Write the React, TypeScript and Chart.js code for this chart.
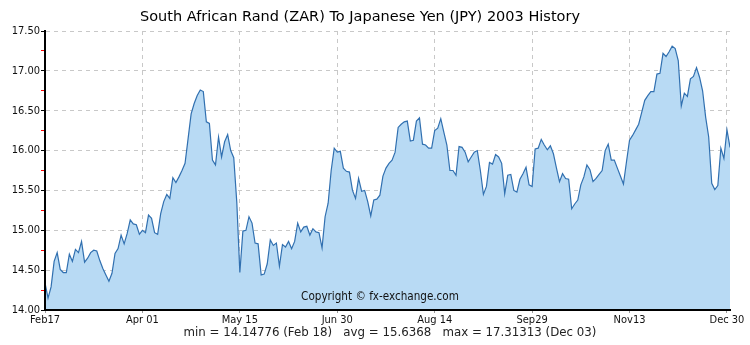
import { useEffect, useRef } from "react";
import { Chart, registerables } from "chart.js";

Chart.register(...registerables);

const TITLE = "South African Rand (ZAR) To Japanese Yen (JPY) 2003 History";
const STATS = "min = 14.14776 (Feb 18)   avg = 15.6368   max = 17.31313 (Dec 03)";
const COPYRIGHT = "Copyright \u00A9 fx-exchange.com";

const tickLabels = ["Feb17", "Apr 01", "May 15", "Jun 30", "Aug 14", "Sep29", "Nov13", "Dec 30"];
const TICK_EVERY = 32;

const rates = [
  14.34, 14.15, 14.29, 14.61, 14.72, 14.51, 14.47, 14.47, 14.70, 14.61,
  14.76, 14.72, 14.86, 14.60, 14.65, 14.72, 14.75, 14.74, 14.62, 14.52,
  14.44, 14.36, 14.46, 14.71, 14.77, 14.94, 14.83, 14.96, 15.13, 15.08,
  15.07, 14.95, 15.00, 14.97, 15.19, 15.15, 14.97, 14.95, 15.21, 15.36,
  15.45, 15.40, 15.66, 15.60, 15.67, 15.75, 15.84, 16.15, 16.46, 16.59,
  16.69, 16.76, 16.74, 16.36, 16.34, 15.88, 15.82, 16.17, 15.92, 16.11,
  16.20, 16.00, 15.91, 15.35, 14.47, 14.99, 15.00, 15.17, 15.09, 14.84,
  14.83, 14.44, 14.45, 14.58, 14.88, 14.81, 14.84, 14.55, 14.82, 14.79,
  14.86, 14.77, 14.86, 15.09, 14.98, 15.04, 15.05, 14.94, 15.02, 14.98,
  14.97, 14.78, 15.17, 15.34, 15.75, 16.03, 15.98, 15.99, 15.78, 15.74,
  15.73, 15.50, 15.40, 15.65, 15.49, 15.50, 15.36, 15.18, 15.38, 15.39,
  15.44, 15.68, 15.78, 15.84, 15.88, 15.98, 16.29, 16.33, 16.36, 16.37,
  16.12, 16.13, 16.37, 16.41, 16.08, 16.07, 16.03, 16.03, 16.25, 16.28,
  16.40, 16.23, 16.07, 15.75, 15.75, 15.69, 16.05, 16.04, 15.98, 15.86,
  15.92, 15.98, 16.00, 15.75, 15.45, 15.55, 15.85, 15.83, 15.95, 15.92,
  15.84, 15.46, 15.69, 15.70, 15.50, 15.48, 15.64, 15.71, 15.79, 15.57,
  15.55, 16.02, 16.03, 16.14, 16.07, 16.01, 16.06, 15.96, 15.78, 15.61,
  15.71, 15.65, 15.64, 15.27, 15.33, 15.38, 15.57, 15.67, 15.82, 15.76,
  15.61, 15.65, 15.70, 15.75, 16.00, 16.08, 15.88, 15.88, 15.78, 15.68,
  15.58, 15.86, 16.13, 16.19, 16.26, 16.33, 16.48, 16.63, 16.69, 16.74,
  16.74, 16.96, 16.97, 17.22, 17.18, 17.24, 17.31, 17.28, 17.13, 16.56,
  16.72, 16.68, 16.90, 16.93, 17.04, 16.92, 16.75, 16.42, 16.17, 15.59,
  15.51, 15.56, 16.03, 15.90, 16.26, 16.04,
];

const TICK_FONT = "'DejaVu Sans Condensed', 'DejaVu Sans', sans-serif";

export default function App() {
  const ref = useRef<HTMLCanvasElement>(null);

  useEffect(() => {
    if (!ref.current) return;

    const overlay = {
      id: "overlay",
      afterDatasetsDraw(chart: any) {
        const { ctx, chartArea } = chart;
        ctx.save();
        ctx.strokeStyle = "#000";
        ctx.lineWidth = 2;
        ctx.beginPath();
        ctx.moveTo(chartArea.left, chartArea.top);
        ctx.lineTo(chartArea.left, chartArea.bottom);
        ctx.lineTo(chartArea.right, chartArea.bottom);
        ctx.stroke();
        ctx.restore();
      },
      afterDraw(chart: any) {
        const { ctx } = chart;
        ctx.save();
        ctx.fillStyle = "#000";
        ctx.textAlign = "center";
        ctx.textBaseline = "middle";
        ctx.font = "14.5px 'DejaVu Sans', sans-serif";
        ctx.fillText(TITLE, 360, 17);
        ctx.font = "11.6px " + TICK_FONT;
        ctx.fillStyle = "#111";
        ctx.fillText(COPYRIGHT, 380, 297);
        ctx.font = "11.8px 'DejaVu Sans', sans-serif";
        ctx.fillStyle = "#222";
        ctx.fillText(STATS, 390, 333);
        ctx.restore();
      },
    };

    const isMajor = (v: number) => Math.abs(v * 2 - Math.round(v * 2)) < 1e-6;

    const chart = new Chart(ref.current, {
      type: "line",
      data: {
        datasets: [
          {
            data: rates.map((v, i) => ({ x: i, y: v })),
            borderColor: "#3170b0",
            borderWidth: 1.2,
            backgroundColor: "#b8daf4",
            fill: "start",
            pointRadius: 0,
            tension: 0,
          },
        ],
      },
      options: {
        animation: false,
        responsive: false,
        layout: { padding: { left: 0, right: 20, top: 31, bottom: 0 } },
        plugins: {
          legend: { display: false },
          title: { display: false },
          tooltip: { enabled: false },
        },
        scales: {
          x: {
            type: "linear",
            min: 0,
            max: rates.length - 1,
            afterBuildTicks: (scale: any) => {
              scale.ticks = tickLabels.map((_, k) => ({ value: k * TICK_EVERY }));
            },
            afterFit: (scale: any) => {
              scale.height = 35;
            },
            grid: {
              color: "#c8c8c8",
              tickColor: "#999",
              tickLength: 3,
              lineWidth: 1,
            },
            border: { display: true, color: "#000", width: 2, dash: [4, 4] },
            ticks: {
              autoSkip: false,
              maxRotation: 0,
              padding: 1,
              color: "#111",
              font: { family: TICK_FONT, size: 11 },
              callback: (v: any) => tickLabels[Math.round(Number(v) / TICK_EVERY)] ?? "",
            },
          },
          y: {
            min: 14,
            max: 17.5,
            afterFit: (scale: any) => {
              scale.width = 45;
            },
            grid: {
              color: (c: any) => (isMajor(c.tick.value) ? "#c8c8c8" : "rgba(0,0,0,0)"),
              tickColor: (c: any) => (isMajor(c.tick.value) ? "#000" : "#ff0000"),
              tickLength: 4,
              lineWidth: 1,
            },
            border: { display: true, color: "#000", width: 2, dash: [4, 4] },
            ticks: {
              stepSize: 0.25,
              padding: 1,
              color: "#111",
              font: { family: TICK_FONT, size: 11 },
              callback: (v: any) => (isMajor(Number(v)) ? Number(v).toFixed(2) : ""),
            },
          },
        },
      },
      plugins: [overlay],
    } as any);

    return () => chart.destroy();
  }, []);

  return (
    <div style={{ position: "fixed", left: 0, top: 0, width: 750, height: 345, background: "#fff" }}>
      <canvas ref={ref} width={750} height={345} style={{ display: "block" }} />
    </div>
  );
}
